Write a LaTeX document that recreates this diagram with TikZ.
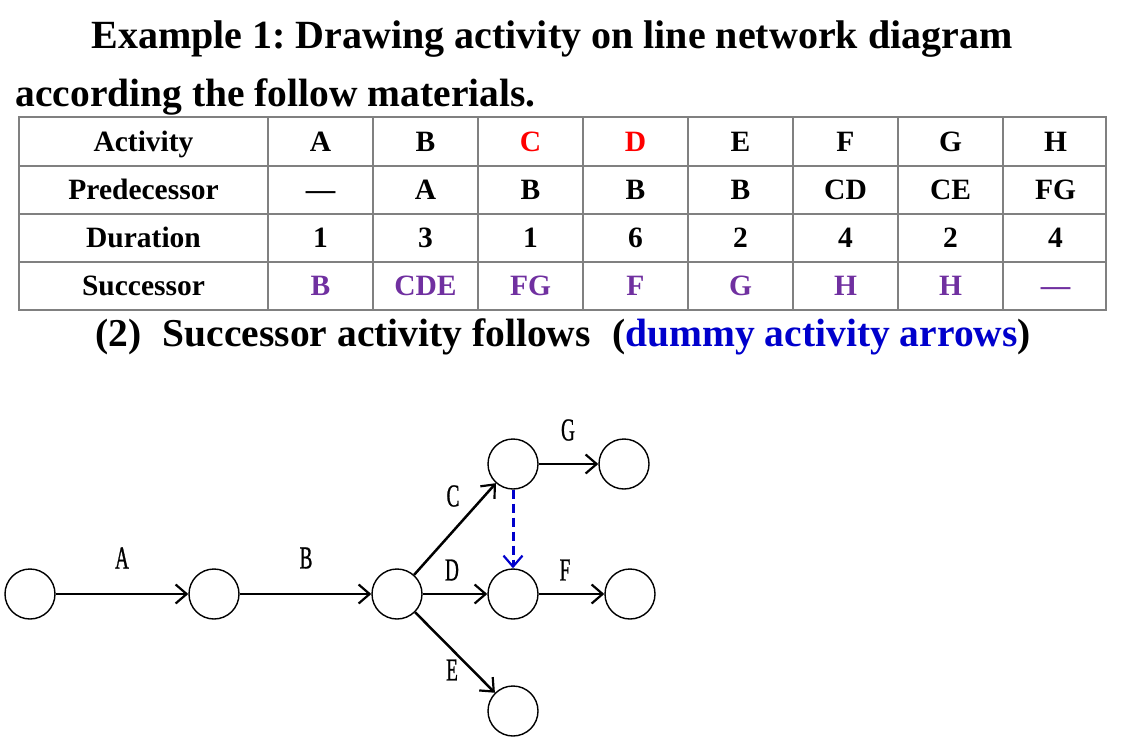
\documentclass[tikz,border=0pt]{standalone}
\usepackage{fontspec}
\setmainfont{Liberation Serif}
\newfontfamily\netfont[FakeStretch=0.6, FakeBold=0.8]{Liberation Serif}
\usetikzlibrary{arrows.meta,positioning}
\definecolor{Crimson}{HTML}{FF0000}
\definecolor{Plum}{HTML}{7030A0}
\definecolor{Ink}{HTML}{0000CC}
\definecolor{Rule}{HTML}{808080}
\frenchspacing

\tikzset{
  event/.style={circle, draw, line width=1.4pt, minimum size=50pt, inner sep=0pt},
  act/.style={-{Straight Barb[length=11pt, width=19pt, line width=2.2pt]}, line width=2.5pt},
  dummy/.style={act, color=Ink, dash pattern=on 9pt off 5pt, line width=3pt},
  cell/.style={font=\fontsize{29.5}{32}\selectfont\bfseries, inner sep=0pt, text height=19.5pt, text depth=0pt},
  tag/.style={font=\netfont\fontsize{32}{34}\selectfont, inner sep=0pt},
  grid/.style={draw=Rule, line width=2pt}
}

\begin{document}
\begin{tikzpicture}[x=1pt, y=-1pt]
    \useasboundingbox (0,0) rectangle (1125,737);
    % headings
    \node[anchor=base, font=\fontsize{40}{42}\selectfont\bfseries] (title) at (552,48) {Example 1: Drawing activity on line network diagram};
    \node[anchor=base west, font=\fontsize{39.5}{42}\selectfont\bfseries] (title2) at (12,106) {according the follow materials.};
    \node[anchor=base, font=\fontsize{39.5}{42}\selectfont\bfseries] (note) at (563,346) {(2)\hspace{0.55em}Successor activity follows\hspace{0.55em}(\textcolor{Ink}{dummy activity arrows})};

    % table
    \draw[grid] (19,117) rectangle (1106,310);
    \foreach \y in {166,214,262} \draw[grid] (19,\y) -- (1106,\y);
    \foreach \x in {268,373,478,583,688,793,898,1003} \draw[grid] (\x,117) -- (\x,310);
    \foreach \txt/\y [count=\i] in {Activity/141.5, Predecessor/190, Duration/238, Successor/286}
      \node[cell] (h\i) at (143.5,\y) {\txt};
    \foreach \a/\p/\d/\s [count=\j] in {A/\textemdash/1/B, B/A/3/CDE, {\textcolor{Crimson}{C}}/B/1/FG,
        {\textcolor{Crimson}{D}}/B/6/F, E/B/2/G, F/CD/4/H, G/CE/2/H, H/FG/4/\textemdash} {
      \node[cell] (a\j) at (215.5+105*\j,141.5) {\a};
      \node[cell] (p\j) at (215.5+105*\j,190) {\p};
      \node[cell] (d\j) at (215.5+105*\j,238) {\d};
      \node[cell, text=Plum] (s\j) at (215.5+105*\j,286) {\s};
    }

    % network
    \node[event] (n1) at (30,594) {};
    \node[event] (n2) at (214,594) {};
    \node[event] (n3) at (397,594) {};
    \node[event] (n4) at (513,464) {};
    \node[event] (n5) at (624,464) {};
    \node[event] (n6) at (513,594) {};
    \node[event] (n7) at (630,594) {};
    \node[event] (n8) at (513,711) {};

    \draw[act] (n1) -- (n2);
    \draw[act] (n2) -- (n3);
    \draw[act] (n3) -- (n4);
    \draw[act] (n3) -- (n6);
    \draw[act] (n3) -- (n8);
    \draw[act] (n4) -- (n5);
    \draw[act] (n6) -- (n7);
    \draw[dummy] (n4) -- (n6);

    \node[tag] (lA) at (122,558) {A};
    \node[tag] (lB) at (306,558) {B};
    \node[tag] (lC) at (453,496) {C};
    \node[tag] (lD) at (452,570) {D};
    \node[tag] (lE) at (452,670) {E};
    \node[tag] (lF) at (565,570) {F};
    \node[tag] (lG) at (568,430) {G};
\end{tikzpicture}
\end{document}
